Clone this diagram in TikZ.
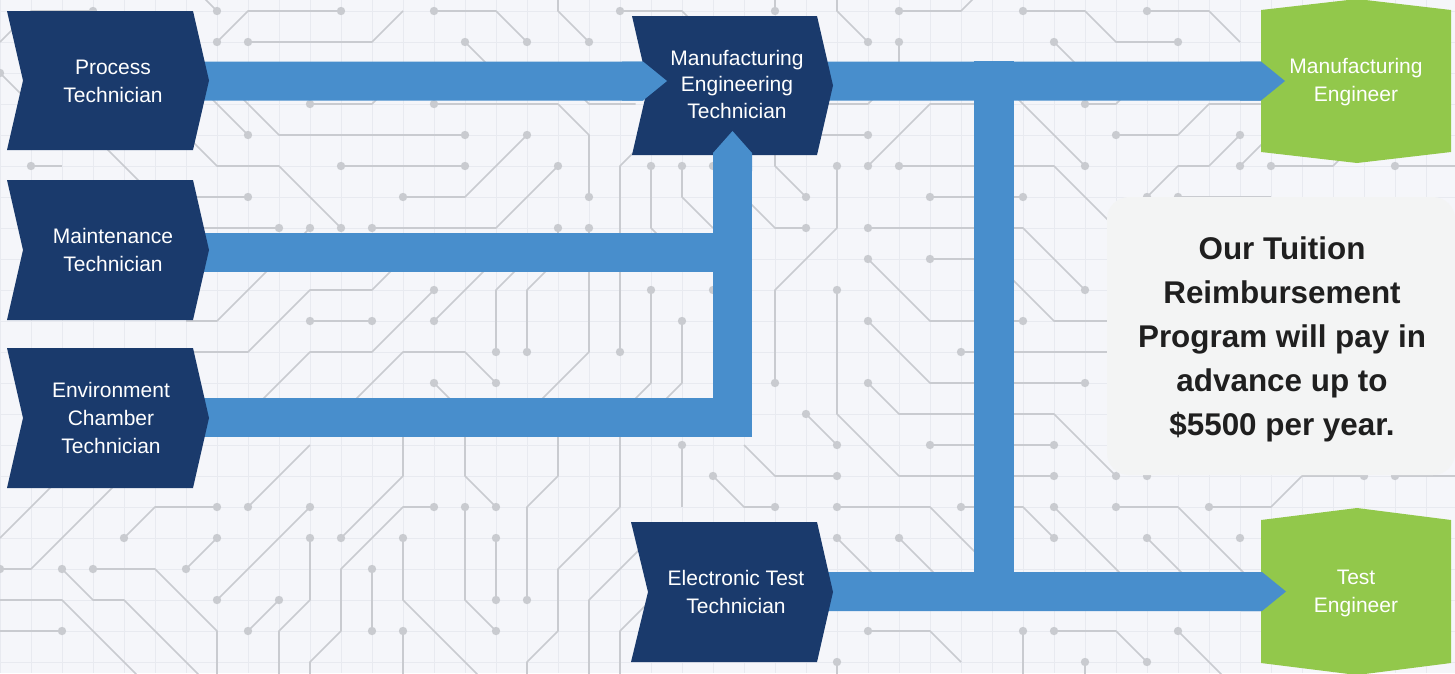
\documentclass[tikz,border=0pt]{standalone}
\usepackage{fontspec}
\setmainfont{Liberation Sans}
\usetikzlibrary{calc}
\definecolor{bgc}{HTML}{F5F6FA}
\definecolor{gridc}{HTML}{E8EAF0}
\definecolor{trc}{HTML}{C9CBD0}
\definecolor{navy}{HTML}{1A3A6C}
\definecolor{arrc}{HTML}{488ECC}
\definecolor{grn}{HTML}{92C84B}
\definecolor{boxc}{HTML}{F3F4F4}
\definecolor{boxtxt}{HTML}{1F1F1F}
\newcommand\flowarrow[2]{\fill[flow] ($(#1)+(0,-19.5)$) -- ($(#2)+(-24,-19.5)$) -- (#2) -- ($(#2)+(-24,19.5)$) -- ($(#1)+(0,19.5)$) -- cycle;}
\newcommand\flowhead[1]{\fill[flow] ($(#1)+(-45,-19.5)$) -- ($(#1)+(-24,-19.5)$) -- (#1) -- ($(#1)+(-24,19.5)$) -- ($(#1)+(-45,19.5)$) -- cycle;}
\begin{document}
\begin{tikzpicture}[x=1pt,y=-1pt,
  trace/.style={draw=trc, line width=1.6pt, line join=round},
  chev/.style={fill=navy},
  hexa/.style={fill=grn},
  flow/.style={fill=arrc},
  lbl/.style={text=white, align=center, font=\fontsize{21}{27.5}\selectfont, inner sep=0pt},
  notebox/.style={fill=boxc, rounded corners=22pt, minimum width=348, minimum height=278, inner sep=0pt},
  notetext/.style={text=boxtxt, align=center, font=\fontsize{31.4}{44}\selectfont\bfseries, inner sep=0pt}]
\useasboundingbox (0,0) rectangle (1455,673);
\fill[bgc] (0,0) rectangle (1455,673);
% grid
\foreach \i in {0,...,46} \draw[gridc, line width=1pt] (31*\i,0) -- (31*\i,673);
\foreach \j in {0,...,21} \draw[gridc, line width=1pt] (0,11+31*\j) -- (1455,11+31*\j);
% circuit traces
\begin{scope}[x=31pt,y=-31pt,shift={(0pt,-11pt)}]
\draw[trace] (6,2)--(7,3)--(8,4);
\draw[trace] (7,2)--(8,3)--(9,4)--(15,4);
\draw[trace] (10,3)--(12,3)--(13,2);
\draw[trace] (14,3)--(18,3)--(19,4)--(19,6);
\draw[trace] (18,2)--(19,3)--(20.5,3);
\draw[trace] (6,4)--(7,5)--(9,5)--(11,7);
\draw[trace] (11,5)--(15,5);
\draw[trace] (6,6)--(8,6);
\draw[trace] (13,6)--(15,6)--(17,4);
\draw[trace] (12,7)--(16,7)--(18,5);
\draw[trace] (6,7)--(9,7);
\draw[trace] (10,7)--(9,8)--(7,10)--(6,10);
\draw[trace] (18,7)--(18,8)--(17,9)--(17,11);
\draw[trace] (19,7)--(19,11)--(17,13);
\draw[trace] (21,4)--(20,5)--(20,11);
\draw[trace] (6,11)--(8,11)--(10,9)--(12,9)--(13,8);
\draw[trace] (10,10)--(12,10);
\draw[trace] (14,9)--(12,11)--(10,11)--(8,13);
\draw[trace] (14,10)--(16,8);
\draw[trace] (11,13)--(13,11)--(15,11)--(16,12);
\draw[trace] (14,12)--(15,13)--(15,15)--(16,16);
\draw[trace] (17,8)--(16,9)--(16,11);
\draw[trace] (21,9)--(21,12)--(20,13)--(20,16)--(18,18)--(18,20)--(17,21)--(17,22);
\draw[trace] (22,10)--(22,12)--(21,13);
\draw[trace] (2,15)--(0,17);
\draw[trace] (4,15)--(1,18)--(0,18);
\draw[trace] (7,16)--(5,16)--(4,17);
\draw[trace] (8,16)--(10,14);
\draw[trace] (10,16)--(7,19);
\draw[trace] (7,17)--(6,18);
\draw[trace] (13,13)--(13,15)--(11,17);
\draw[trace] (14,16)--(13,16)--(11,18)--(11,20)--(10,21)--(10,22);
\draw[trace] (15,16)--(15,19)--(16,20);
\draw[trace] (16,17)--(16,19);
\draw[trace] (18,13)--(18,15)--(17,16)--(17,19);
\draw[trace] (21,17)--(19,19)--(19,22);
\draw[trace] (21,19)--(20,20)--(20,22);
\draw[trace] (10,17)--(10,19)--(9,20)--(9,22);
\draw[trace] (9,19)--(8,20);
\draw[trace] (12,18)--(12,20);
\draw[trace] (13,17)--(13,19)--(15,21)--(16,22);
\draw[trace] (13,20)--(13,22);
\draw[trace] (2,18)--(3,19)--(4,19)--(6,21)--(7,22);
\draw[trace] (3,18)--(5,18)--(7,20)--(7,22);
\draw[trace] (0,19)--(2,19)--(4,21)--(5,22);
\draw[trace] (0,20)--(2,20);
\draw[trace] (22,5)--(22,6)--(23,7);
\draw[trace] (21,5)--(21,7)--(22,8);
\draw[trace] (25,4)--(25,5)--(26,6);
\draw[trace] (24,6)--(25,7)--(26,7);
\draw[trace] (20,0)--(22,0)--(23,1);
\draw[trace] (25,-1)--(25,0);
\draw[trace] (27,-1)--(27,0)--(28,1);
\draw[trace] (29,1)--(29,2);
\draw[trace] (26,3)--(28,3)--(29,2);
\draw[trace] (26,4)--(28,4);
\draw[trace] (28,5)--(30,3)--(32,3);
\draw[trace] (27,5)--(27,7)--(25,9)--(25,12);
\draw[trace] (29,5)--(32,5);
\draw[trace] (30,6)--(33,6);
\draw[trace] (28,7)--(33,7)--(35,9);
\draw[trace] (30,8)--(32,8)--(34,10)--(36,10);
\draw[trace] (28,8)--(30,10)--(33,10);
\draw[trace] (28,10)--(30,12)--(35,12);
\draw[trace] (31,11)--(36,11);
\draw[trace] (28,12)--(29,13)--(34,13)--(36,15);
\draw[trace] (30,14)--(34,14);
\draw[trace] (26,13)--(27,14);
\draw[trace] (24,14)--(25,15)--(27,15);
\draw[trace] (27,9)--(27,13)--(29,15)--(34,15);
\draw[trace] (27,16)--(30,16)--(32,18);
\draw[trace] (31,16)--(33,16)--(34,17);
\draw[trace] (34,16)--(36,18)--(37,19);
\draw[trace] (36,16)--(38,16)--(40,18)--(41,19);
\draw[trace] (39,16)--(41,16)--(42,15)--(44,15);
\draw[trace] (27,17)--(29,19);
\draw[trace] (29,17)--(31,19);
\draw[trace] (37,17)--(39,19);
\draw[trace] (32,2)--(33,3)--(35,5);
\draw[trace] (35,3)--(36,3)--(37,2);
\draw[trace] (32,5)--(34,5)--(36,7);
\draw[trace] (36,4)--(38,4)--(39,3)--(41,3);
\draw[trace] (40,4)--(39,5)--(38,5)--(37,6);
\draw[trace] (40,5)--(41,4);
\draw[trace] (38,6)--(41,6);
\draw[trace] (41,5)--(43,5)--(44,4);
\draw[trace] (45,5)--(47,5);
\draw[trace] (45,15)--(47,15);
\draw[trace] (7,1)--(8,0)--(11,0);
\draw[trace] (7,0)--(6,-1);
\draw[trace] (8,1)--(12,1)--(13,0);
\draw[trace] (14,0)--(16,0)--(17,1);
\draw[trace] (15,1)--(16,2);
\draw[trace] (18,-1)--(18,0)--(19,1);
\draw[trace] (33,0)--(35,0)--(36,1)--(38,1);
\draw[trace] (37,0)--(39,0)--(40,1);
\draw[trace] (34,1)--(35,2);
\draw[trace] (29,0)--(31,0)--(32,-1);
\draw[trace] (0,1)--(1,0)--(3,0);
\draw[trace] (0,2)--(2,4);
\draw[trace] (1,5)--(2,5);
\draw[trace] (3,4)--(5,6);
\draw[trace] (28,20)--(30,20)--(31,21);
\draw[trace] (27,21)--(27,22);
\draw[trace] (34,20)--(36,20)--(37,21);
\draw[trace] (38,20)--(40,22);
\draw[trace] (35,21)--(35,22);
\draw[trace] (33,20)--(33,22);
\draw[trace] (22,14)--(22,16);
\draw[trace] (23,15)--(24,16)--(25,16);
\foreach \a/\b in {8/4,15/4,10/3,14/3,19/6,11/7,11/5,15/5,8/6,13/6,17/4,12/7,18/5,9/7,10/7,18/7,17/11,19/7,20/11,10/10,12/10,14/9,14/10,16/12,14/12,16/16,16/11,21/9,22/10,23/9,
0/18,7/16,4/17,8/16,10/16,7/19,7/17,6/18,11/17,14/16,15/16,16/20,16/17,16/19,17/19,10/17,9/19,8/20,12/18,12/20,13/17,13/20,2/18,3/18,2/20,
22/5,23/5,21/5,26/6,26/7,20/0,25/0,28/1,29/1,28/4,28/5,27/5,25/12,29/5,30/6,33/6,28/7,35/9,30/8,28/8,33/10,28/10,35/12,31/11,28/12,36/15,30/14,34/14,26/13,27/14,27/15,27/9,34/15,27/16,31/16,34/17,34/16,36/16,39/16,44/15,27/17,29/17,37/17,40/17,35/5,35/3,36/4,40/4,37/6,40/5,38/6,37/15,
41/5,45/5,45/15,7/1,11/0,7/0,8/1,14/0,17/1,15/1,19/1,33/0,38/1,37/0,34/1,29/0,3/0,0/2,1/5,
28/20,27/21,34/20,37/21,38/20,35/21,33/20,22/14,23/15,25/16}
  \fill[trc] (\a,\b) circle (4.2pt);
\end{scope}
% connection points
\coordinate (pt-out) at (195,81);
\coordinate (met-in) at (667,81);
\coordinate (mt-out) at (195,252.5);
\coordinate (ect-out) at (195,417.5);
\coordinate (join) at (732.5,437);
\coordinate (met-bot) at (732.5,131);
\coordinate (met-out) at (820,81);
\coordinate (mfe-in) at (1285,81);
\coordinate (ett-out) at (820,591.5);
\coordinate (tse-in) at (1286,591.5);
\coordinate (split-top) at (994,61);
\coordinate (split-bot) at (994,611);
% connectors (under shapes)
\flowarrow{pt-out}{met-in}
\fill[flow] ($(mt-out)+(0,-19.5)$) rectangle ($(join |- mt-out)+(19.5,19.5)$);
\fill[flow] ($(ect-out)+(0,-19.5)$) rectangle ($(join)+(19.5,0)$);
\fill[flow] ($(join)+(-19.5,0)$) rectangle ($(met-bot)+(19.5,22)$);
\flowarrow{met-out}{mfe-in}
\flowarrow{ett-out}{tse-in}
\fill[flow] ($(split-top)+(-20,0)$) rectangle ($(split-bot)+(20,0)$);
% shapes
\fill[chev] (7,11) -- (193,11) -- (209,80.5) -- (193,150) -- (7,150) -- (23,80.5) -- cycle;
\fill[chev] (7,180) -- (193,180) -- (209,250) -- (193,320) -- (7,320) -- (23,250) -- cycle;
\fill[chev] (7,348) -- (193,348) -- (209,418) -- (193,488) -- (7,488) -- (23,418) -- cycle;
\fill[chev] (632,16) -- (817,16) -- (833,85.5) -- (817,155) -- (632,155) -- (648,85.5) -- cycle;
\fill[chev] (631,522) -- (817,522) -- (833,592) -- (817,662) -- (631,662) -- (648,592) -- cycle;
\fill[hexa] (1261,10) -- (1357,-1) -- (1451,10) -- (1451,152) -- (1357,163) -- (1261,152) -- cycle;
\fill[hexa] (1261,520) -- (1357,508) -- (1451,520) -- (1451,663) -- (1357,675) -- (1261,663) -- cycle;
% arrow heads over the shapes
\flowhead{met-in}
\flowhead{mfe-in}
\flowhead{tse-in}
\fill[flow] ($(met-bot)+(-19.5,22)$) -- (met-bot) -- ($(met-bot)+(19.5,22)$) -- ($(met-bot)+(19.5,40)$) -- ($(met-bot)+(-19.5,40)$) -- cycle;
% labels
\node[lbl, font=\fontsize{21}{28}\selectfont] (pt) at (113,81) {Process\\Technician};
\node[lbl, font=\fontsize{21}{28}\selectfont] (mt) at (113,250) {Maintenance\\Technician};
\node[lbl, font=\fontsize{21}{28}\selectfont] (ect) at (111,418) {Environment\\Chamber\\Technician};
\node[lbl, font=\fontsize{21}{26.5}\selectfont] (met) at (737,84) {Manufacturing\\Engineering\\Technician};
\node[lbl, font=\fontsize{21}{28}\selectfont] (ett) at (736,592) {Electronic Test\\Technician};
\node[lbl, font=\fontsize{21}{28}\selectfont] (mfe) at (1356,82) {Manufacturing\\Engineer};
\node[lbl, font=\fontsize{21}{28}\selectfont] (tse) at (1356,593) {Test\\Engineer};
% note
\node[notebox] (box) at (1281,336) {};
\node[notetext] (note) at (1282,339) {Our Tuition\\Reimbursement\\Program will pay in\\advance up to\\\$5500 per year.};
\end{tikzpicture}
\end{document}
